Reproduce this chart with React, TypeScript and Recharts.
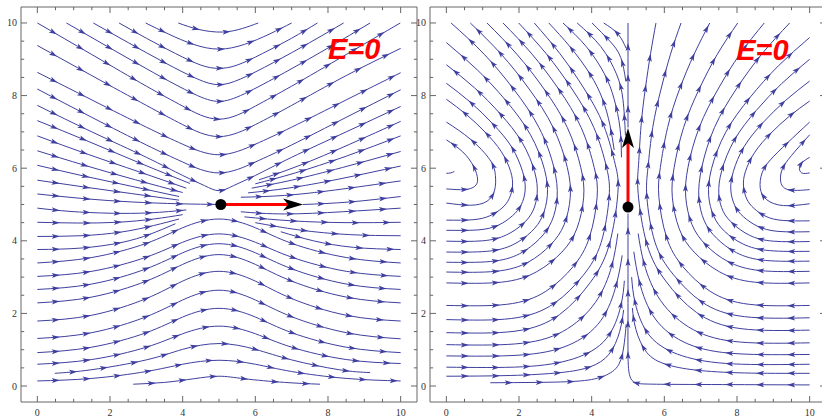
import { LineChart, Line, XAxis, YAxis, ReferenceDot } from 'recharts';

type Pt = [number, number];
type XY = { x: number; y: number };

const STREAM = '#3f3f9f';
const FRAME = '#666';
const LABEL = '#333';

const tickValues = [0, 0.5, 1, 1.5, 2, 2.5, 3, 3.5, 4, 4.5, 5, 5.5, 6, 6.5, 7, 7.5, 8, 8.5, 9, 9.5, 10];

// ---------- left panel (flow to the right, saddle at the charge) ----------
const leftTopLines: Pt[][] = [
  [[3.88, 10], [4.45, 9.82], [5.1, 9.75], [5.65, 9.85], [6.08, 10]],
  [[2.98, 10], [3.6, 9.7], [4.3, 9.41], [5, 9.28], [5.7, 9.41], [6.4, 9.7], [7, 10]],
  [[2.25, 10], [3, 9.58], [3.8, 9.16], [4.5, 8.84], [5, 8.75], [5.5, 8.84], [6.2, 9.16], [7, 9.58], [7.71, 10]],
  [[1.54, 10], [2.5, 9.46], [3.5, 8.91], [4.4, 8.46], [5, 8.3], [5.6, 8.46], [6.5, 8.91], [7.5, 9.46], [8.43, 10]],
  [[0.8, 10], [2, 9.31], [3.2, 8.63], [4.3, 8.05], [5, 7.84], [5.7, 8.05], [6.8, 8.63], [8, 9.31], [9.16, 10]],
  [[0, 10], [1.5, 9.13], [3, 8.26], [4, 7.71], [5, 7.35], [6, 7.71], [7, 8.26], [8.5, 9.13], [9.99, 10]],
  [[0, 9.38], [1.5, 8.55], [3, 7.73], [4, 7.2], [5, 6.87], [6, 7.2], [7, 7.73], [8.5, 8.55], [10, 9.3]],
  [[0, 8.64], [1.5, 7.88], [3, 7.13], [4, 6.66], [5, 6.37], [6, 6.66], [7, 7.13], [8.5, 7.88], [10, 8.63]],
  [[0, 8.18], [1.5, 7.4], [3, 6.64], [4, 6.17], [5, 5.87], [6, 6.17], [7, 6.64], [8.5, 7.4], [10, 8.16]],
  [[0, 7.73], [1.5, 7.0], [3, 6.3], [4, 5.8], [4.6, 5.52], [5, 5.38], [5.4, 5.52], [6, 5.8], [7, 6.3], [8.5, 7.0], [10, 7.7]],
];

const leftInflow: Pt[][] = [
  [[0, 7.31], [1.4, 6.74], [2.8, 6.15], [4.2, 5.58]],
  [[0, 6.89], [1.4, 6.38], [2.8, 5.9], [4.1, 5.45]],
  [[0, 6.48], [1.3, 6.08], [2.7, 5.68], [4.0, 5.33]],
  [[0, 6.08], [1.3, 5.78], [2.6, 5.5], [3.9, 5.22]],
  [[0, 5.67], [1.3, 5.48], [2.6, 5.3], [3.9, 5.12]],
  [[0, 5.29], [1.3, 5.16], [2.6, 5.07], [3.9, 5.02], [5.05, 5.0]],
  [[0, 4.9], [0.9, 4.81], [2.0, 4.76], [3.1, 4.77], [4.1, 4.85]],
  [[0, 4.51], [1.1, 4.49], [2.2, 4.51], [3.2, 4.6], [4.0, 4.72]],
  [[0, 4.12], [1.2, 4.14], [2.3, 4.24], [3.2, 4.42], [3.9, 4.6]],
  [[0, 3.76], [1.2, 3.8], [2.3, 3.95], [3.1, 4.18], [3.8, 4.47]],
];

const leftBottomLines: Pt[][] = [
  [[0, 3.39], [1.5, 3.54], [3, 3.93], [4, 4.36], [5, 4.6], [6, 4.36], [7, 3.93], [8.5, 3.54], [10, 3.39]],
  [[0, 3.02], [1.5, 3.16], [3, 3.55], [4, 3.96], [5, 4.19], [6, 3.96], [7, 3.55], [8.5, 3.16], [10, 3.02]],
  [[0, 2.66], [1.5, 2.81], [3, 3.23], [4, 3.67], [5, 3.92], [6, 3.67], [7, 3.23], [8.5, 2.81], [10, 2.66]],
  [[0, 2.29], [1.5, 2.45], [3, 2.89], [4, 3.35], [5, 3.62], [6, 3.35], [7, 2.89], [8.5, 2.45], [10, 2.29]],
  [[0, 1.79], [1.5, 1.95], [3, 2.41], [4, 2.89], [5, 3.16], [6, 2.89], [7, 2.41], [8.5, 1.95], [10, 1.79]],
  [[0, 1.31], [1.5, 1.47], [3, 1.91], [4, 2.37], [5, 2.64], [6, 2.37], [7, 1.91], [8.5, 1.47], [10, 1.3]],
  [[0, 0.92], [1.5, 1.07], [3, 1.47], [4, 1.9], [5, 2.14], [6, 1.9], [7, 1.47], [8.5, 1.07], [10, 0.92]],
  [[0, 0.6], [1.5, 0.73], [3, 1.07], [4, 1.44], [5, 1.65], [6, 1.44], [7, 1.07], [8.5, 0.73], [10, 0.62]],
  [[0.48, 0.35], [1.5, 0.45], [3, 0.72], [4, 1.01], [5, 1.17], [6, 1.01], [7, 0.72], [8.3, 0.45], [9.16, 0.37]],
  [[0, 0.14], [1.5, 0.21], [3, 0.4], [4, 0.6], [5, 0.71], [6, 0.6], [7, 0.4], [8.5, 0.21], [10, 0.14]],
  [[2.64, 0.05], [3.5, 0.1], [4.3, 0.2], [5, 0.27], [5.7, 0.2], [6.8, 0.1], [7.78, 0.05]],
];

const leftOutflow: Pt[][] = [
  [[5.6, 4.8], [6.8, 4.74], [8.4, 4.8], [10, 4.9]],
  [[5.7, 4.66], [7.0, 4.55], [8.5, 4.5], [10, 4.51]],
  [[6.0, 4.5], [7.2, 4.3], [8.6, 4.17], [10, 4.14]],
  [[6.7, 4.25], [7.6, 4.0], [8.7, 3.82], [10, 3.76]],
  [[7.31, 5.0], [8.6, 5.07], [10, 5.22]],
  [[6.1, 5.68], [7.2, 6.07], [8.6, 6.66], [10, 7.29]],
  [[6.0, 5.57], [7.1, 5.87], [8.5, 6.33], [10, 6.89]],
  [[5.9, 5.45], [7.0, 5.67], [8.4, 6.02], [10, 6.46]],
  [[5.8, 5.32], [6.9, 5.45], [8.3, 5.7], [10, 6.06]],
  [[5.6, 5.2], [6.8, 5.25], [8.2, 5.4], [10, 5.65]],
];

const leftVector: Pt[] = [[5.05, 5.0], [7.15, 5.0]];
const leftLabelAt: Pt = [8.0, 9.01];

// ---------- right panel (flow turning upward along x = 5) ----------
const rightWestLines: Pt[][] = [
  [[0, 5.86], [0.12, 5.87], [0.22, 5.91]],
  [[0, 5.43], [0.5, 5.41], [0.78, 5.5], [0.86, 5.7], [0.75, 6.05], [0.45, 6.45], [0, 6.78]],
  [[0, 5.04], [0.66, 4.98], [1.12, 5.09], [1.33, 5.4], [1.35, 5.8], [1.2, 6.23], [0.66, 6.8], [0, 7.27]],
  [[0, 4.57], [0.73, 4.58], [1.2, 4.69], [1.53, 4.9], [1.73, 5.16], [1.82, 5.5], [1.77, 5.91], [1.51, 6.46], [1.07, 6.99], [0.56, 7.47], [0, 7.9]],
  [[0, 4.29], [0.87, 4.3], [1.43, 4.43], [1.82, 4.69], [2.06, 4.99], [2.17, 5.4], [2.1, 5.9], [1.8, 6.58], [1.28, 7.22], [0.67, 7.81], [0, 8.34]],
  [[0, 3.99], [1.0, 4.0], [1.65, 4.16], [2.1, 4.46], [2.38, 4.82], [2.5, 5.3], [2.43, 5.9], [2.08, 6.72], [1.48, 7.5], [0.78, 8.21], [0, 8.85]],
  [[0, 3.69], [1.11, 3.71], [1.83, 3.89], [2.34, 4.25], [2.64, 4.67], [2.78, 5.25], [2.7, 5.97], [2.31, 6.93], [1.64, 7.86], [0.86, 8.7], [0, 9.46]],
  [[0, 3.41], [1.22, 3.43], [2.01, 3.64], [2.56, 4.05], [2.9, 4.54], [3.05, 5.2], [2.96, 6.02], [2.55, 7.12], [1.85, 8.18], [1.04, 9.14], [0.13, 10]],
  [[0, 3.14], [1.36, 3.16], [2.25, 3.41], [2.86, 3.88], [3.24, 4.44], [3.41, 5.2], [3.33, 6.02], [2.94, 7.12], [2.28, 8.18], [1.51, 9.14], [0.66, 10]],
  [[0, 2.84], [1.51, 2.86], [2.49, 3.15], [3.18, 3.69], [3.59, 4.33], [3.78, 5.2], [3.7, 6.02], [3.33, 7.12], [2.69, 8.18], [1.94, 9.14], [1.12, 10]],
  [[0, 2.22], [1.66, 2.25], [2.74, 2.61], [3.49, 3.29], [3.94, 4.1], [4.15, 5.2], [4.07, 6.02], [3.71, 7.12], [3.09, 8.18], [2.36, 9.14], [1.56, 10]],
  [[0, 1.83], [1.79, 1.86], [2.96, 2.27], [3.76, 3.04], [4.26, 3.95], [4.48, 5.2], [4.41, 6.02], [4.06, 7.12], [3.46, 8.18], [2.76, 9.14], [1.99, 10]],
  [[0, 1.47], [1.89, 1.51], [3.12, 1.97], [3.96, 2.85], [4.48, 3.88], [4.72, 5.3], [4.65, 6.1], [4.33, 7.18], [3.78, 8.21], [3.13, 9.15], [2.42, 10]],
];

const rightWestLow: Pt[][] = [
  [[0, 1.14], [1.9, 1.16], [3.2, 1.5], [4.1, 2.3], [4.55, 3.3], [4.72, 4.2]],
  [[0, 0.83], [2.0, 0.85], [3.35, 1.12], [4.25, 1.8], [4.68, 2.8], [4.84, 3.6]],
  [[0, 0.52], [2.1, 0.53], [3.5, 0.75], [4.4, 1.3], [4.8, 2.2], [4.9, 2.9]],
  [[0, 0.27], [1.76, 0.29], [3.14, 0.37], [3.96, 0.53], [4.48, 0.88], [4.77, 1.5], [4.88, 2.1]],
  [[1.21, 0.09], [2.5, 0.1], [3.69, 0.14], [4.35, 0.28], [4.75, 0.6], [4.9, 1.2], [4.95, 1.7]],
];

const rightWestTop: Pt[][] = [
  [[4.62, 6.5], [4.5, 7.2], [4.3, 7.9], [3.95, 8.6], [3.4, 9.35], [2.82, 10]],
  [[4.82, 6.3], [4.78, 7.1], [4.62, 7.9], [4.35, 8.6], [3.85, 9.35], [3.21, 10]],
  [[4.93, 6.9], [4.86, 7.9], [4.68, 8.6], [4.25, 9.35], [3.6, 10]],
  [[4.94, 8.4], [4.8, 9.05], [4.5, 9.5], [4.01, 10]],
  [[4.95, 9.3], [4.72, 9.7], [4.33, 10]],
];

const rightCenter: Pt[][] = [
  [[10, 0.03], [8.8, 0.035], [7.6, 0.04], [6.4, 0.045], [5.5, 0.055], [5.08, 0.2], [5.0, 0.9], [5.0, 2.0], [5.0, 3.1], [5.0, 4.2], [5.0, 4.75]],
  [[5.0, 7.12], [5.0, 8.1], [5.0, 9.05], [5.0, 10]],
];

const rightEastLines: Pt[][] = [
  [[10, 5.87], [9.78, 5.87], [9.72, 6.03], [9.82, 6.18], [10, 6.3]],
  [[10, 5.41], [9.4, 5.41], [9.2, 5.65], [9.25, 5.98], [9.5, 6.35], [10, 6.92]],
  [[10, 5.02], [9.28, 4.97], [8.82, 5.13], [8.64, 5.45], [8.69, 5.87], [8.92, 6.23], [9.38, 6.69], [10, 7.27]],
  [[10, 4.55], [9.27, 4.56], [8.8, 4.67], [8.47, 4.89], [8.27, 5.15], [8.18, 5.5], [8.23, 5.9], [8.49, 6.44], [8.93, 6.96], [9.44, 7.43], [10, 7.85]],
  [[10, 4.25], [9.13, 4.26], [8.57, 4.4], [8.18, 4.66], [7.94, 4.97], [7.83, 5.4], [7.9, 5.91], [8.2, 6.6], [8.72, 7.26], [9.33, 7.86], [10, 8.4]],
  [[10, 3.98], [9.0, 3.99], [8.35, 4.15], [7.9, 4.46], [7.62, 4.81], [7.5, 5.3], [7.58, 5.93], [7.93, 6.78], [8.53, 7.59], [9.23, 8.33], [10, 9.0]],
  [[10, 3.71], [8.89, 3.73], [8.17, 3.91], [7.66, 4.26], [7.36, 4.68], [7.22, 5.25], [7.3, 5.99], [7.69, 6.99], [8.36, 7.95], [9.14, 8.82], [10, 9.6]],
  [[10, 3.44], [8.78, 3.46], [7.99, 3.67], [7.44, 4.07], [7.1, 4.55], [6.95, 5.2], [7.03, 6.02], [7.38, 7.12], [7.98, 8.18], [8.68, 9.14], [9.45, 10]],
  [[10, 3.16], [8.64, 3.18], [7.75, 3.43], [7.14, 3.89], [6.76, 4.45], [6.59, 5.2], [6.65, 6.02], [6.96, 7.12], [7.48, 8.18], [8.08, 9.14], [8.75, 10]],
  [[10, 2.84], [8.49, 2.86], [7.51, 3.15], [6.82, 3.69], [6.41, 4.33], [6.22, 5.2], [6.27, 6.02], [6.53, 7.12], [6.96, 8.18], [7.46, 9.14], [8.02, 10]],
  [[10, 2.22], [8.34, 2.25], [7.26, 2.61], [6.51, 3.29], [6.06, 4.1], [5.85, 5.2], [5.89, 6.02], [6.09, 7.12], [6.42, 8.18], [6.82, 9.14], [7.25, 10]],
  [[10, 1.88], [8.21, 1.91], [7.04, 2.31], [6.24, 3.08], [5.74, 3.97], [5.52, 5.2], [5.55, 6.02], [5.68, 7.12], [5.91, 8.18], [6.17, 9.14], [6.46, 10]],
  [[10, 1.54], [8.11, 1.58], [6.88, 2.03], [6.04, 2.89], [5.52, 3.91], [5.28, 5.3], [5.29, 6.1], [5.36, 7.18], [5.48, 8.21], [5.62, 9.15], [5.77, 10]],
];

const rightEastLow: Pt[][] = [
  [[10, 1.19], [8.1, 1.21], [6.8, 1.55], [5.9, 2.35], [5.45, 3.35], [5.28, 4.2]],
  [[10, 0.87], [8.0, 0.89], [6.65, 1.16], [5.75, 1.85], [5.32, 2.85], [5.16, 3.7]],
  [[10, 0.6], [7.9, 0.61], [6.5, 0.83], [5.6, 1.38], [5.2, 2.28], [5.1, 3.0]],
  [[10, 0.35], [8.2, 0.36], [6.86, 0.44], [6.04, 0.6], [5.52, 0.92], [5.22, 1.55], [5.12, 2.15]],
];

const rightVector: Pt[] = [[5.0, 4.93], [5.0, 6.94]];
const rightLabelAt: Pt = [7.98, 8.98];

// ---------- helpers ----------
function ctrl(v: number[]) {
  const n = v.length - 1;
  const a: number[] = new Array(n), b: number[] = new Array(n), r: number[] = new Array(n);
  a[0] = 0; b[0] = 2; r[0] = v[0] + 2 * v[1];
  for (let i = 1; i < n - 1; i++) { a[i] = 1; b[i] = 4; r[i] = 4 * v[i] + 2 * v[i + 1]; }
  a[n - 1] = 2; b[n - 1] = 7; r[n - 1] = 8 * v[n - 1] + v[n];
  for (let i = 1; i < n; i++) { const m = a[i] / b[i - 1]; b[i] -= m; r[i] -= m * r[i - 1]; }
  a[n - 1] = r[n - 1] / b[n - 1];
  for (let i = n - 2; i >= 0; i--) a[i] = (r[i] - a[i + 1]) / b[i];
  b[n - 1] = (v[n] + a[n - 1]) / 2;
  for (let i = 0; i < n - 1; i++) b[i] = 2 * v[i + 1] - a[i + 1];
  return [a, b];
}

// same curve d3's curveNatural draws, sampled finely
function sampleCurve(pts: XY[]): XY[] {
  if (pts.length < 3) return pts;
  const xs = pts.map(p => p.x), ys = pts.map(p => p.y);
  const [ax, bx] = ctrl(xs);
  const [ay, by] = ctrl(ys);
  const out: XY[] = [pts[0]];
  for (let i = 0; i < pts.length - 1; i++) {
    for (let k = 1; k <= 24; k++) {
      const t = k / 24, u = 1 - t;
      out.push({
        x: u * u * u * xs[i] + 3 * u * u * t * ax[i] + 3 * u * t * t * bx[i] + t * t * t * xs[i + 1],
        y: u * u * u * ys[i] + 3 * u * u * t * ay[i] + 3 * u * t * t * by[i] + t * t * t * ys[i + 1],
      });
    }
  }
  return out;
}

function arrowSpots(pts: XY[], first = 18, gap = 31) {
  const c = sampleCurve(pts);
  let total = 0;
  for (let i = 1; i < c.length; i++) total += Math.hypot(c[i].x - c[i - 1].x, c[i].y - c[i - 1].y);
  const res: { x: number; y: number; ux: number; uy: number }[] = [];
  let acc = 0, next = first;
  for (let i = 1; i < c.length && next < total - 6; i++) {
    const dx = c[i].x - c[i - 1].x, dy = c[i].y - c[i - 1].y;
    const d = Math.hypot(dx, dy);
    while (d > 0 && acc + d >= next && next < total - 6) {
      const t = (next - acc) / d;
      res.push({ x: c[i - 1].x + dx * t, y: c[i - 1].y + dy * t, ux: dx / d, uy: dy / d });
      next += gap;
    }
    acc += d;
  }
  return res;
}

function headPath(x: number, y: number, ux: number, uy: number, len: number, half: number, notch: number) {
  const nx = -uy, ny = ux;
  const bx = x - ux * len, by = y - uy * len;
  const mx = x - ux * (len - notch), my = y - uy * (len - notch);
  return `M${x},${y}L${bx + nx * half},${by + ny * half}L${mx},${my}L${bx - nx * half},${by - ny * half}Z`;
}

const streamDots = (p: any) => {
  if (p.index !== 0 || !p.points) return <g key={`d${p.index}`} />;
  const spots = arrowSpots(p.points);
  return (
    <g key="arrows">
      {spots.map((s, i) => (
        <path key={i} d={headPath(s.x + s.ux * 4.5, s.y + s.uy * 4.5, s.ux, s.uy, 8, 2.5, 1.8)} fill={STREAM} stroke="none" />
      ))}
    </g>
  );
};

const vectorDots = (p: any) => {
  const pts: XY[] = p.points || [];
  if (p.index === 0) return <circle key="charge" cx={p.cx} cy={p.cy} r={5.5} fill="#000" />;
  if (p.index === pts.length - 1 && pts.length > 1) {
    const a = pts[pts.length - 2];
    const d = Math.hypot(p.cx - a.x, p.cy - a.y) || 1;
    const ux = (p.cx - a.x) / d, uy = (p.cy - a.y) / d;
    return <path key="head" d={headPath(p.cx + ux * 6, p.cy + uy * 6, ux, uy, 20, 6, 5)} fill="#000" />;
  }
  return <g key={`v${p.index}`} />;
};

const makeTick = (side: 'bottom' | 'top' | 'left' | 'right', labelled: boolean) => (p: any) => {
  const { x, y, payload } = p;
  const v = payload.value as number;
  const major = Math.abs(v % 2) < 1e-6;
  const len = major ? 6 : 3.2;
  let ln;
  if (side === 'bottom') ln = <line x1={x} y1={y} x2={x} y2={y - len} />;
  else if (side === 'top') ln = <line x1={x} y1={y} x2={x} y2={y + len} />;
  else if (side === 'left') ln = <line x1={x} y1={y} x2={x + len} y2={y} />;
  else ln = <line x1={x} y1={y} x2={x - len} y2={y} />;
  let txt = null;
  if (labelled && major) {
    txt = side === 'bottom'
      ? <text x={x} y={y + 14} textAnchor="middle" fill={LABEL} stroke="none" fontSize={10} fontFamily="'Liberation Serif', 'Times New Roman', serif">{v}</text>
      : <text x={x - 4} y={y} dy="0.35em" textAnchor="end" fill={LABEL} stroke="none" fontSize={10} fontFamily="'Liberation Serif', 'Times New Roman', serif">{v}</text>;
  }
  return (
    <g key={`${side}${v}`} stroke={FRAME} strokeWidth={1}>
      {ln}
      {txt}
    </g>
  );
};

const toXY = (pts: Pt[]) => pts.map(([x, y]) => ({ x, y }));

function Panel({ lines, vector, labelAt, marginLeft }: { lines: Pt[][]; vector: Pt[]; labelAt: Pt; marginLeft: number }) {
  // axes take 1px each, so the frame sits at margin + 1
  return (
    <LineChart width={430} height={417} margin={{ top: 6, right: 430 - marginLeft - 396 - 1, bottom: 14, left: marginLeft - 1 }}>
      <XAxis xAxisId="b" type="number" dataKey="x" domain={[-0.45, 10.45]} allowDataOverflow ticks={tickValues} interval={0}
        height={1} tickSize={0} tickMargin={0} tickLine={false} axisLine={{ stroke: FRAME }} tick={makeTick('bottom', true)} />
      <XAxis xAxisId="t" orientation="top" type="number" dataKey="x" domain={[-0.45, 10.45]} allowDataOverflow ticks={tickValues} interval={0}
        height={1} tickSize={0} tickMargin={0} tickLine={false} axisLine={{ stroke: FRAME }} tick={makeTick('top', false)} />
      <YAxis yAxisId="l" type="number" dataKey="y" domain={[-0.44, 10.44]} allowDataOverflow ticks={tickValues} interval={0}
        width={1} tickSize={0} tickMargin={0} tickLine={false} axisLine={{ stroke: FRAME }} tick={makeTick('left', true)} />
      <YAxis yAxisId="r" orientation="right" type="number" dataKey="y" domain={[-0.44, 10.44]} allowDataOverflow ticks={tickValues} interval={0}
        width={1} tickSize={0} tickMargin={0} tickLine={false} axisLine={{ stroke: FRAME }} tick={makeTick('right', false)} />
      {lines.map((pts, i) => (
        <Line key={i} xAxisId="b" yAxisId="l" data={toXY(pts)} dataKey="y" type="natural" stroke={STREAM} strokeWidth={1}
          dot={streamDots} activeDot={false} isAnimationActive={false} legendType="none" />
      ))}
      <Line xAxisId="b" yAxisId="l" data={toXY(vector)} dataKey="y" type="linear" stroke="#ff0000" strokeWidth={3}
        dot={vectorDots} activeDot={false} isAnimationActive={false} legendType="none" />
      <ReferenceDot xAxisId="b" yAxisId="l" x={labelAt[0]} y={labelAt[1]} r={1}
        shape={(p: any) => (
          <text x={p.cx} y={p.cy} fill="#ff0000" fontSize={29} fontWeight="bold" fontStyle="italic"
            fontFamily="'Liberation Sans', Arial, sans-serif">E=0</text>
        )} />
    </LineChart>
  );
}

const leftLines = [...leftTopLines, ...leftInflow, ...leftBottomLines, ...leftOutflow];
const rightLines = [...rightWestLines, ...rightWestLow, ...rightWestTop, ...rightCenter, ...rightEastLines, ...rightEastLow];

export default function App() {
  return (
    <div style={{ position: 'absolute', left: 0, top: 0, width: 822, height: 417, overflow: 'hidden', background: '#fff' }}>
      <div style={{ position: 'absolute', left: 0, top: 0 }}>
        <Panel lines={leftLines} vector={leftVector} labelAt={leftLabelAt} marginLeft={21} />
      </div>
      <div style={{ position: 'absolute', left: 410, top: 0 }}>
        <Panel lines={rightLines} vector={rightVector} labelAt={rightLabelAt} marginLeft={20} />
      </div>
    </div>
  );
}
